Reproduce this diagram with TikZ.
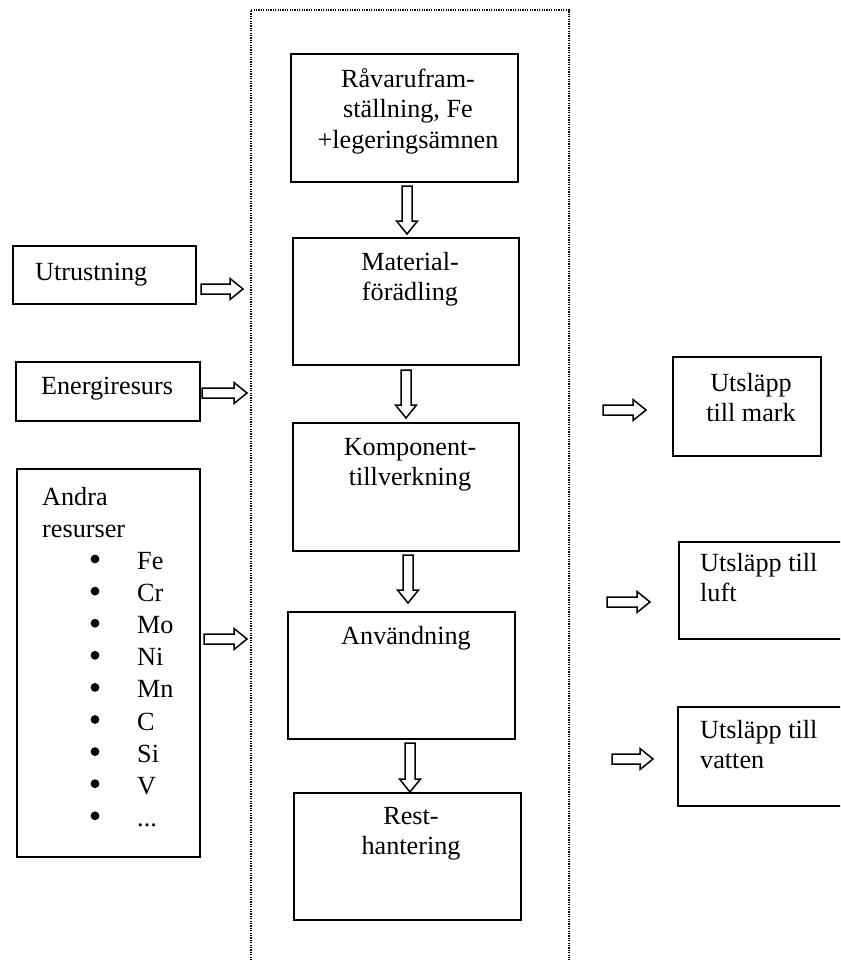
\documentclass[tikz,border=0pt]{standalone}
\usepackage{fontspec}
\setmainfont{Liberation Serif}
\usetikzlibrary{fit}
\newcommand\blt[1]{\hspace*{95pt}#1}
\tikzset{
  box/.style={draw, line width=1.3pt, inner sep=0pt, outer sep=0pt},
  txt/.style={inner sep=0pt, font=\fontsize{26.2}{30.5}\selectfont, align=center},
  txtl/.style={inner sep=0pt, font=\fontsize{26.2}{30.5}\selectfont, align=left},
  boundary/.style={line width=1.2pt, dash pattern=on 1.2pt off 1.2pt},
  bulletdot/.style={fill=black},
  pics/barrow/.style={code={
    \draw[line width=1.5pt, line join=miter, fill=white]
      (0,-5) -- ({#1-13},-5) -- ({#1-13},-10.5) -- (#1,0) -- ({#1-13},10.5) -- ({#1-13},5) -- (0,5) -- cycle;}}
}
\begin{document}
\begin{tikzpicture}[x=1pt,y=-1pt]
\useasboundingbox (0,0) rectangle (840,960);
\clip (0,0) rectangle (840,960);
% system boundary
\draw[boundary] (251,965) -- (251,10) -- (569,10) -- (569,965);
% main chain
\node[box, fit={(291,54) (518,182)}] (r1) {};
\node[box, fit={(293,238) (519,365)}] (r2) {};
\node[box, fit={(293,423) (519,551)}] (r3) {};
\node[box, fit={(288,612) (515,739)}] (r4) {};
\node[box, fit={(294,793) (521,920)}] (r5) {};
\node[txt, anchor=north] (t1) at (408,68) {Råvarufram-\\ställning, Fe\\+legeringsämnen};
\node[txt, anchor=north] (t2) at (410,252) {Material-\\förädling};
\node[txt, anchor=north] (t3) at (410,438) {Komponent-\\tillverkning};
\node[txt, anchor=north] (t4) at (406,626) {Användning};
\node[txt, anchor=north] (t5) at (411,807) {Rest-\\hantering};
% inputs
\node[box, fit={(13,246) (196,304)}] (utr) {};
\node[box, fit={(16,362) (200,421)}] (ene) {};
\node[box, fit={(17,469) (200,857)}] (andra) {};
\node[txtl, anchor=north west] (tutr) at (35,263) {Utrustning};
\node[txt, anchor=north] (tene) at (107,377) {Energiresurs};
\node[txtl, anchor=north west, font=\fontsize{26.2}{32.1}\selectfont] (tandra) at (42,487)
  {Andra\\resurser\\\blt{Fe}\\\blt{Cr}\\\blt{Mo}\\\blt{Ni}\\\blt{Mn}\\\blt{C}\\\blt{Si}\\\blt{V}\\\blt{...}};
\foreach \k in {0,...,8} \fill[bulletdot] (95,{559+32.1*\k}) circle (4.4pt);
% outputs
\node[box, fit={(673,357) (821,456)}] (mark) {};
\node[box, fit={(679,542) (870,639)}] (luft) {};
\node[box, fit={(678,707) (870,806)}] (vatten) {};
\node[txt, anchor=north] (tmark) at (751,373) {Utsläpp\\till mark};
\node[txtl, anchor=north west] (tluft) at (700,553) {Utsläpp till\\luft};
\node[txtl, anchor=north west] (tvatten) at (700,720) {Utsläpp till\\vatten};
% block arrows
\pic[rotate=-90] at (407,186) {barrow=48};
\pic[rotate=-90] at (406,370) {barrow=48};
\pic[rotate=-90] at (408,555) {barrow=48};
\pic[rotate=-90] at (410,743) {barrow=49};
\pic at (201,289) {barrow=42};
\pic at (202,393) {barrow=45};
\pic at (204,639) {barrow=43};
\pic at (603,410) {barrow=43};
\pic at (607,602) {barrow=43};
\pic at (612,759) {barrow=41};
\end{tikzpicture}
\end{document}
